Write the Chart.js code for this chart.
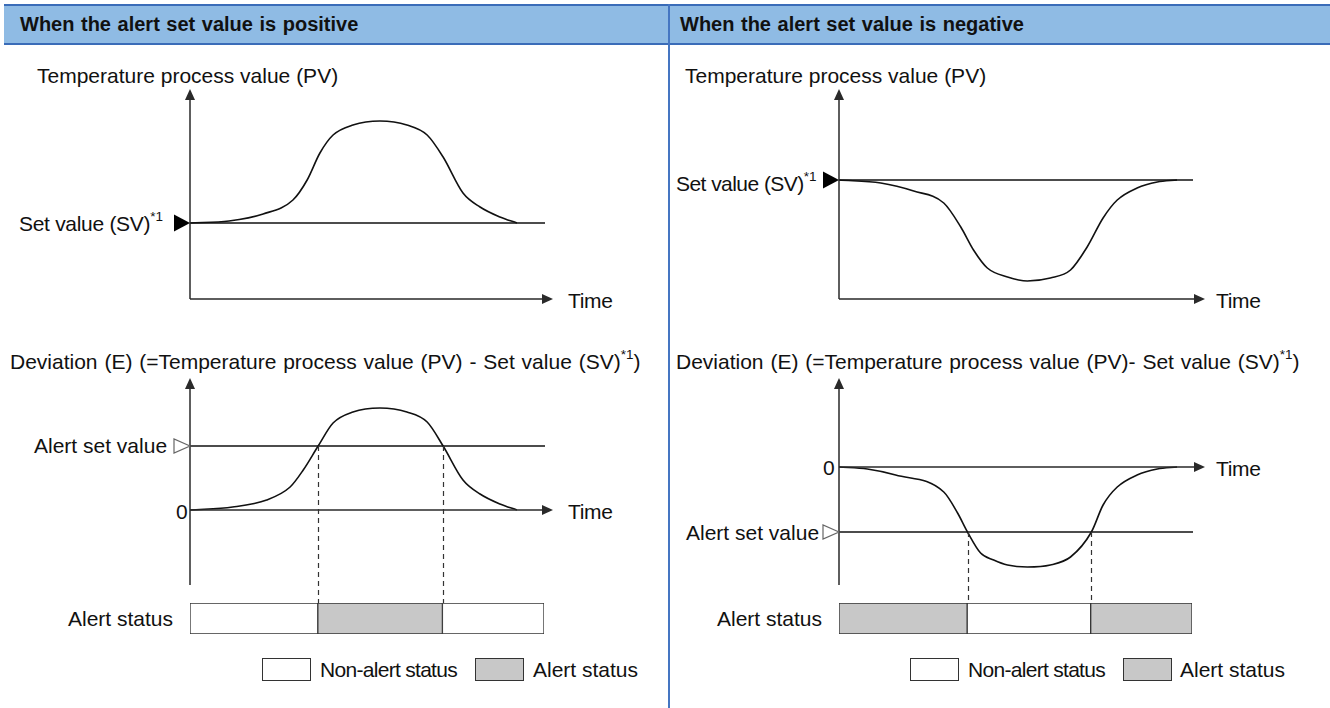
<!DOCTYPE html>
<html>
<head>
<meta charset="UTF-8"/>
<script src="https://cdn.jsdelivr.net/npm/chart.js@4.4.0/dist/chart.umd.min.js"></script>
<style>
body{margin:0;width:1330px;height:708px;position:relative;overflow:hidden;background:#fff;
  font-family:"Liberation Sans",Arial,sans-serif;color:#111}
.head{position:absolute;left:4px;right:0;top:4px;height:37px;background:#8fbbe4;
  border-top:2px solid #3a6cb8;border-bottom:2px solid #3a6cb8}
.divider{position:absolute;left:668px;top:4px;width:2px;height:704px;background:#4576c2}
.t{position:absolute;font-size:21px;line-height:20px;white-space:nowrap}
.t sup{font-size:13.5px;position:relative;top:-4px;vertical-align:top;line-height:13px;letter-spacing:0}
.h{position:absolute;font-size:20px;font-weight:bold;line-height:20px;white-space:nowrap;word-spacing:1px}
.box{position:absolute;width:47px;height:21px;border:1px solid #333}
</style>
</head>
<body>
<div class="head"></div>
<div class="divider"></div>

<div class="h" style="left:20px;top:14px">When the alert set value is positive</div>
<div class="h" style="left:680px;top:14px">When the alert set value is negative</div>

<!-- left column -->
<div class="t" style="left:37px;top:66px">Temperature process value (PV)</div>
<div class="t" style="left:19px;top:214px;letter-spacing:-0.3px">Set value (SV)<sup>*1</sup></div>
<div class="t" style="left:568px;top:291px;letter-spacing:-0.3px">Time</div>
<div class="t" style="left:10px;top:352px;word-spacing:1px">Deviation (E) (=Temperature process value (PV) - Set value (SV)<sup>*1</sup>)</div>
<div class="t" style="left:34px;top:436px">Alert set value</div>
<div class="t" style="left:176px;top:502px">0</div>
<div class="t" style="left:568px;top:502px;letter-spacing:-0.3px">Time</div>
<div class="t" style="left:68px;top:609px">Alert status</div>
<div class="box" id="legPosOff" style="left:262px;top:658px"></div>
<div class="t" style="left:320px;top:660px;letter-spacing:-0.7px">Non-alert status</div>
<div class="box" id="legPosOn" style="left:475px;top:658px"></div>
<div class="t" style="left:533px;top:660px">Alert status</div>

<!-- right column -->
<div class="t" style="left:685px;top:66px">Temperature process value (PV)</div>
<div class="t" style="left:676px;top:174px;letter-spacing:-0.55px">Set value (SV)<sup>*1</sup></div>
<div class="t" style="left:1216px;top:291px;letter-spacing:-0.3px">Time</div>
<div class="t" style="left:676px;top:352px;word-spacing:1px">Deviation (E) (=Temperature process value (PV)- Set value (SV)<sup>*1</sup>)</div>
<div class="t" style="left:823px;top:458px">0</div>
<div class="t" style="left:1216px;top:459px;letter-spacing:-0.3px">Time</div>
<div class="t" style="left:686px;top:523px">Alert set value</div>
<div class="t" style="left:717px;top:609px">Alert status</div>
<div class="box" id="legNegOff" style="left:910px;top:658px"></div>
<div class="t" style="left:968px;top:660px;letter-spacing:-0.7px">Non-alert status</div>
<div class="box" id="legNegOn" style="left:1123px;top:658px"></div>
<div class="t" style="left:1180px;top:660px">Alert status</div>

<script>
// time runs 0..100 on every plot
const timeRange = [0, 100];

// alert set value positive: PV rises above SV and comes back
const pvPosTime  = [0, 11, 20.6, 29, 33, 36.6, 40.3, 45.9, 53.5, 61.1, 66.8, 71.3, 76.9, 81.7, 87.3, 92.1];
const pvPosValue = [76, 78, 85, 99, 119, 146, 164, 174, 178, 174, 164, 142, 106, 92, 82, 76];
const svPos = 76;
const pvPosRange = [0, 210];

const devPosTime  = [0, 12, 21.6, 28.2, 31.9, 36.1, 40.3, 45.9, 53.5, 61.1, 66.8, 71.3, 76.9, 81.7, 87.3, 92.1];
const devPosValue = [0, 3, 10, 23, 40, 64, 87, 98, 102, 98, 88, 64, 30, 16, 6, 0];
const alertPos = 64;
const devPosRange = [-75, 132];

const statusPosEdges = [0, 36.1, 71.3, 100];
const statusPosAlert = [false, true, false];

// alert set value negative: PV dips below SV and comes back
const pvNegTime  = [0, 11.8, 21.1, 29.6, 34.4, 38, 41.9, 47.6, 53.2, 59.7, 65.4, 70.1, 74.6, 78.6, 84.2, 89.9, 95.5];
const pvNegValue = [119, 116, 108, 96, 72, 49, 31, 22, 18, 21, 29, 52, 81, 99, 111, 117, 119];
const svNeg = 119;
const pvNegRange = [0, 210];

const devNegTime  = [0, 8, 16, 29.6, 33.5, 36.3, 40, 43.7, 47.6, 53.2, 59.7, 65.4, 71.3, 74.6, 78.6, 84.2, 89.9, 95.5];
const devNegValue = [0, -2, -8, -25, -46, -65, -86, -93, -98, -100, -98, -90, -65, -38, -20, -8, -2, 0];
const alertNeg = -65;
const devNegRange = [-118, 89];

const statusNegEdges = [0, 36.3, 71.3, 100];
const statusNegAlert = [true, false, true];

const INK = '#111';
const AXIS = '#2a2a2a';
const ALERT_FILL = '#c8c8c8';
const CLEAR_FILL = '#ffffff';

function pts(xs, ys) { return xs.map((x, i) => ({x: x, y: ys[i]})); }

function makeCanvas(area, pad) {
  const c = document.createElement('canvas');
  const w = area.right - area.left + pad.left + pad.right;
  const h = area.bottom - area.top + pad.top + pad.bottom;
  c.width = w; c.height = h;
  c.style.cssText = 'position:absolute;left:' + (area.left - pad.left) + 'px;top:' +
    (area.top - pad.top) + 'px;width:' + w + 'px;height:' + h + 'px';
  document.body.appendChild(c);
  return c;
}

// axes with arrowheads, level markers and dashed drop lines
function diagramPlugin(cfg) {
  return {
    id: 'diagram',
    afterDatasetsDraw(chart) {
      const ctx = chart.ctx, a = chart.chartArea, x = chart.scales.x, y = chart.scales.y;
      const baseY = cfg.timeAt === undefined ? a.bottom : y.getPixelForValue(cfg.timeAt);
      const tipX = a.right + cfg.arrowExt;
      ctx.save();
      ctx.strokeStyle = AXIS; ctx.fillStyle = AXIS; ctx.lineWidth = 1.5;
      ctx.beginPath();
      ctx.moveTo(a.left, a.bottom); ctx.lineTo(a.left, a.top + 8);
      ctx.moveTo(a.left, baseY); ctx.lineTo(tipX - 8, baseY);
      ctx.stroke();
      ctx.beginPath();
      ctx.moveTo(a.left, a.top); ctx.lineTo(a.left - 5, a.top + 11); ctx.lineTo(a.left + 5, a.top + 11);
      ctx.closePath(); ctx.fill();
      ctx.beginPath();
      ctx.moveTo(tipX, baseY); ctx.lineTo(tipX - 11, baseY - 5); ctx.lineTo(tipX - 11, baseY + 5);
      ctx.closePath(); ctx.fill();

      cfg.markers.forEach(m => {
        const py = y.getPixelForValue(m.value);
        ctx.beginPath();
        if (m.filled) {
          ctx.moveTo(a.left, py); ctx.lineTo(a.left - 16, py - 8.5); ctx.lineTo(a.left - 16, py + 8.5);
          ctx.closePath(); ctx.fillStyle = '#000'; ctx.fill();
        } else {
          ctx.moveTo(a.left, py); ctx.lineTo(a.left - 16, py - 7); ctx.lineTo(a.left - 16, py + 7);
          ctx.closePath(); ctx.fillStyle = '#fff'; ctx.fill();
          ctx.strokeStyle = '#666'; ctx.lineWidth = 1.2; ctx.stroke();
        }
      });

      if (cfg.drops) {
        ctx.strokeStyle = '#333'; ctx.lineWidth = 1.2; ctx.setLineDash([5, 4]);
        const top = y.getPixelForValue(cfg.dropFrom);
        cfg.drops.forEach(t => {
          const px = Math.round(x.getPixelForValue(t)) + 0.5;
          ctx.beginPath(); ctx.moveTo(px, top); ctx.lineTo(px, chart.height); ctx.stroke();
        });
      }
      ctx.restore();
    }
  };
}

function curveChart(area, pad, range, curve, level, cfg) {
  return new Chart(makeCanvas(area, pad), {
    type: 'line',
    data: {
      datasets: [
        {data: [{x: timeRange[0], y: level}, {x: timeRange[1], y: level}],
         borderColor: INK, borderWidth: 1.4, pointRadius: 0},
        {data: curve, borderColor: INK, borderWidth: 1.6, pointRadius: 0,
         cubicInterpolationMode: 'monotone'}
      ]
    },
    options: {
      responsive: false, animation: false,
      layout: {padding: pad},
      plugins: {legend: {display: false}, tooltip: {enabled: false}},
      scales: {
        x: {type: 'linear', min: timeRange[0], max: timeRange[1], display: false},
        y: {min: range[0], max: range[1], display: false}
      }
    },
    plugins: [diagramPlugin(cfg)]
  });
}

function statusChart(area, edges, states) {
  const datasets = states.map((on, i) => ({
    data: [[edges[i], edges[i + 1]]],
    backgroundColor: on ? ALERT_FILL : CLEAR_FILL,
    borderColor: '#333', borderWidth: 1, borderSkipped: false,
    grouped: false, barPercentage: 1, categoryPercentage: 1
  }));
  return new Chart(makeCanvas(area, {left: 0, right: 0, top: 0, bottom: 0}), {
    type: 'bar',
    data: {labels: ['Alert status'], datasets: datasets},
    options: {
      indexAxis: 'y', responsive: false, animation: false,
      plugins: {legend: {display: false}, tooltip: {enabled: false}},
      scales: {
        x: {type: 'linear', min: timeRange[0], max: timeRange[1], display: false},
        y: {display: false}
      }
    }
  });
}

const pvPad  = {left: 40, top: 9, right: 26, bottom: 11};
const devPad = {left: 40, top: 6, right: 26, bottom: 18};

// positive alert set value
curveChart({left: 190, top: 89, right: 545, bottom: 299}, pvPad, pvPosRange,
  pts(pvPosTime, pvPosValue), svPos,
  {arrowExt: 8, markers: [{value: svPos, filled: true}]});
curveChart({left: 190, top: 378, right: 545, bottom: 585}, devPad, devPosRange,
  pts(devPosTime, devPosValue), alertPos,
  {arrowExt: 8, timeAt: 0, markers: [{value: alertPos, filled: false}],
   drops: statusPosEdges.slice(1, -1), dropFrom: alertPos});
statusChart({left: 190, top: 603, right: 544, bottom: 634}, statusPosEdges, statusPosAlert);

// negative alert set value
curveChart({left: 839, top: 89, right: 1193, bottom: 299}, pvPad, pvNegRange,
  pts(pvNegTime, pvNegValue), svNeg,
  {arrowExt: 12, markers: [{value: svNeg, filled: true}]});
curveChart({left: 839, top: 378, right: 1193, bottom: 585}, devPad, devNegRange,
  pts(devNegTime, devNegValue), alertNeg,
  {arrowExt: 12, timeAt: 0, markers: [{value: alertNeg, filled: false}],
   drops: statusNegEdges.slice(1, -1), dropFrom: alertNeg});
statusChart({left: 839, top: 603, right: 1192, bottom: 634}, statusNegEdges, statusNegAlert);

// legend swatches share the bar colours
['legPosOff', 'legNegOff'].forEach(id => document.getElementById(id).style.background = CLEAR_FILL);
['legPosOn', 'legNegOn'].forEach(id => document.getElementById(id).style.background = ALERT_FILL);
</script>
</body>
</html>
